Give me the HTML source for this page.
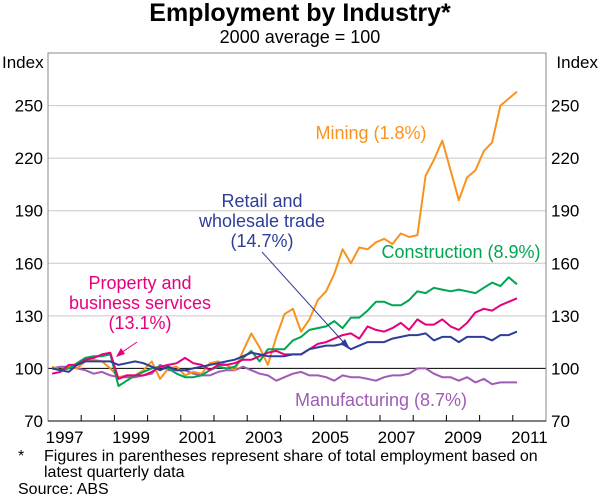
<!DOCTYPE html>
<html><head><meta charset="utf-8"><style>
body{margin:0;background:#fff;}
svg{display:block;font-family:"Liberation Sans",Arial,sans-serif;}
</style></head><body>
<svg id="chart" width="600" height="497" viewBox="0 0 600 497">
<text x="300" y="21" text-anchor="middle" font-size="25" font-weight="bold">Employment by Industry*</text>
<text x="300" y="43" text-anchor="middle" font-size="18">2000 average = 100</text>
<text x="2" y="68" font-size="17">Index</text>
<text x="598" y="68" font-size="17" text-anchor="end">Index</text>
<g id="grid"></g><g id="series"></g><g id="axes"></g>
<text x="371" y="139" font-size="18" fill="#f7931e" text-anchor="middle">Mining (1.8%)</text>
<text x="262" y="207" font-size="18" fill="#2e3d98" text-anchor="middle"><tspan x="262">Retail and</tspan><tspan x="262" dy="20">wholesale trade</tspan><tspan x="262" dy="20">(14.7%)</tspan></text>
<text x="461" y="258" font-size="18" fill="#00a651" text-anchor="middle">Construction (8.9%)</text>
<text x="140" y="289" font-size="18" fill="#e6007e" text-anchor="middle"><tspan x="140">Property and</tspan><tspan x="140" dy="20">business services</tspan><tspan x="140" dy="20">(13.1%)</tspan></text>
<text x="381" y="406" font-size="18" fill="#a05bb5" text-anchor="middle">Manufacturing (8.7%)</text>
<line x1="262" y1="252" x2="346" y2="345" stroke="#2e3d98" stroke-width="1"/>
<polygon points="350,349 340,344 345,339" fill="#2e3d98"/>
<line x1="137" y1="342" x2="121" y2="353" stroke="#e6007e" stroke-width="1"/>
<polygon points="116,357 121,348 125,354" fill="#e6007e"/>
<text x="18" y="461" font-size="16">*</text>
<text x="44" y="461" font-size="16">Figures in parentheses represent share of total employment based on</text>
<text x="44" y="477" font-size="16">latest quarterly data</text>
<text x="18" y="494" font-size="16">Source: ABS</text>
</svg>
<script>
const yTicks=[70,100,130,160,190,220,250];
const xLabels=[1997,1999,2001,2003,2005,2007,2009,2011];
const startYear=1997.125;
const mining=[101,99,101,100,104,105,104,100,95,96,96,99,104,94,100,101,96,98,97,103,104,102,99,110,120,112,102,118,131,134,121,128,139,144,154,168,160,169,168,172,174,171,177,175,176,210,219,230,213,196,209,213,224,229,250,254,258];
const construction=[100,99,100,103,106,107,107,108,90,93,96,98,100,101,100,97,95,95,96,99,101,100,101,106,110,104,111,111,111,116,118,122,123,124,127,123,129,129,133,138,138,136,136,139,144,143,146,145,144,145,144,143,146,149,147,152,148];
const property=[97,98,102,102,105,106,108,109,94,96,96,96,98,101,102,103,106,103,102,99,102,102,103,105,105,107,109,110,108,108,108,111,114,115,117,119,120,117,124,122,121,123,126,122,128,125,125,128,124,122,126,132,134,133,136,138,140];
const retail=[100,99,98,102,104,104,104,104,102,103,104,103,101,99,101,99,99,100,101,102,103,104,105,107,109,108,107,107,107,108,108,111,112,113,113,114,111,113,115,115,115,117,118,119,119,120,116,118,118,115,118,118,118,116,119,119,121];
const manufacturing=[100,101,101,100,99,97,98,96,95,95,95,96,97,102,99,99,99,97,96,96,98,99,99,101,99,97,96,93,95,97,98,96,96,95,93,96,95,95,94,93,95,96,96,97,100,100,97,95,95,93,95,92,94,91,92,92,92];
const NS='http://www.w3.org/2000/svg';
const L=48,R=546,T=53,B=421,x0=1997,x1=2012,v0=70,v1=280;
const xs=t=>L+(t-x0)/(x1-x0)*(R-L);
const ys=v=>B-(v-v0)/(v1-v0)*(B-T);
function mk(tag,attrs,parent){const e=document.createElementNS(NS,tag);for(const k in attrs)e.setAttribute(k,attrs[k]);parent.appendChild(e);return e;}
const grid=document.getElementById('grid'),axes=document.getElementById('axes'),ser=document.getElementById('series');
yTicks.forEach(v=>{
 if(v>70&&v!==100){const g=mk('line',{x1:L,x2:R,y1:ys(v),y2:ys(v),stroke:'#c8c8c8','stroke-width':1},grid);
 
 }
 const a=mk('text',{x:L-5,y:ys(v)+6,'text-anchor':'end','font-size':17},axes);a.textContent=v;
 
 
 const b=mk('text',{x:R+5,y:ys(v)+6,'font-size':17},axes);b.textContent=v;
 
 
});
const fr=mk('rect',{x:L,y:T,width:R-L,height:B-T,fill:'none',stroke:'#888','stroke-width':1},axes);


const base=mk('line',{x1:L,x2:R,y1:ys(100),y2:ys(100),stroke:'#000','stroke-width':1},grid);


for(let y=x0+1;y<x1;y++){const t=mk('line',{x1:xs(y),x2:xs(y),y1:B,y2:B-6,stroke:'#000','stroke-width':1},axes);
 
 }
mk('line',{x1:L,x2:R,y1:B,y2:B,stroke:'#000','stroke-width':1},axes);
xLabels.forEach(y=>{const t=mk('text',{x:xs(y+0.5),y:B+22,'text-anchor':'middle','font-size':17},axes);t.textContent=y;
 
 });
const list=[[manufacturing,'#a05bb5','manufacturing-line'],[mining,'#f7931e','mining-line'],[construction,'#00a651','construction-line'],[property,'#e6007e','property-line'],[retail,'#2e3d98','retail-line']];
list.forEach(([d,c,n])=>{
 const p=d.map((v,i)=>xs(startYear+i*0.25).toFixed(1)+','+ys(v).toFixed(1)).join(' ');
 const pl=mk('polyline',{points:p,fill:'none',stroke:c,'stroke-width':2,'stroke-linejoin':'round'},ser);
 
 
});
</script>
</body></html>
